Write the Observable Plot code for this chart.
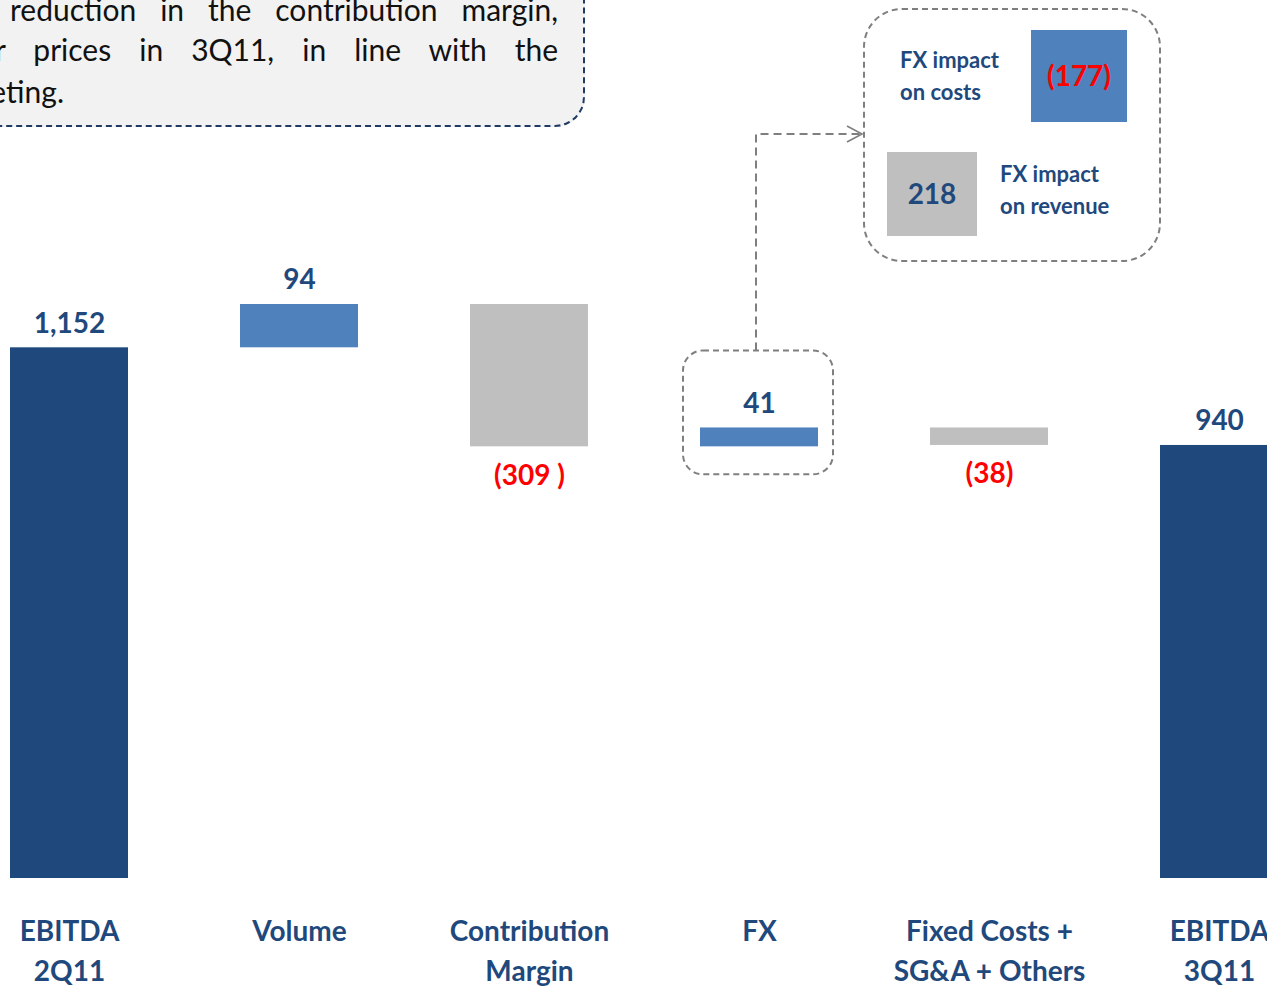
<!DOCTYPE html>
<html>
<head>
<meta charset="utf-8">
<script src="https://cdn.jsdelivr.net/npm/d3@7"></script>
<script src="https://cdn.jsdelivr.net/npm/@observablehq/plot@0.6"></script>
<style>
  html, body { margin: 0; padding: 0; background: #fff; overflow: hidden; }
  #wrap { position: relative; width: 1267px; height: 986px; overflow: hidden; font-family: Lato, "Open Sans", sans-serif; }
  #wrap svg { position: absolute; left: 0; top: 0; overflow: hidden; }
  .note-box {
    position: absolute; left: -60px; top: -40px; width: 645px; height: 167px;
    box-sizing: border-box; background: #f2f2f2;
    border: 2.5px dashed #1f3a63; border-radius: 30px;
  }
  .note-line {
    position: absolute; height: 40px; line-height: 40px;
    font-size: 30px; color: #111; white-space: nowrap;
    text-align: justify; text-align-last: justify;
  }
</style>
</head>
<body>
<div id="wrap">
  <div class="note-box"></div>
  <div class="note-line" style="left:10px; width:548px; top:-11px;">reduction in the contribution margin,</div>
  <div class="note-line" style="left:-68px; width:626px; top:29px;">lower prices in 3Q11, in line with the</div>
  <div class="note-line" style="left:-200px; width:264px; top:71px; text-align:right; text-align-last:right;">marketing.</div>
</div>
<script>
// EBITDA bridge, 2Q11 -> 3Q11
const categories = ["EBITDA\n2Q11", "Volume", "Contribution\nMargin", "FX", "Fixed Costs +\nSG&A + Others", "EBITDA\n3Q11"];
const values = [1152, 94, -309, 41, -38, 940];
const kinds = ["total", "delta", "delta", "delta", "delta", "total"];
const valueLabels = ["1,152", "94", "(309 )", "41", "(38)", "940"];

// FX breakdown shown in the inset
const fxParts = ["FX impact\non costs", "FX impact\non revenue"];
const fxValues = [-177, 218];
const fxLabels = ["(177)", "218"];

const NAVY = "#1f497d", BLUE = "#4f81bd", GRAY = "#bfbfbf", RED = "#ff0000", LINE = "#7f7f7f";

// running totals for the floating bars
let running = 0;
const rows = categories.map((cat, i) => {
  const v = values[i];
  let y1, y2;
  if (kinds[i] === "total") { y1 = 0; y2 = v; running = v; }
  else { y1 = running; y2 = running + v; running = y2; }
  return {cat, value: v, kind: kinds[i], label: valueLabels[i], lo: Math.min(y1, y2), hi: Math.max(y1, y2)};
});

const fill = d => d.kind === "total" ? NAVY : d.value > 0 ? BLUE : GRAY;
const up = rows.filter(d => d.kind === "total" || d.value > 0);
const down = rows.filter(d => d.kind !== "total" && d.value < 0);

const xOpts = {domain: categories, range: [-46, 1334], paddingInner: 0.487, paddingOuter: 0.2435, align: 0.5};
const yOpts = {domain: [0, 1246], range: [878, 304]};

const chart = Plot.plot({
  width: 1267,
  height: 986,
  marginTop: 0, marginRight: 0, marginBottom: 0, marginLeft: 0,
  style: {fontFamily: "Lato, 'Open Sans', sans-serif", background: "transparent", overflow: "hidden"},
  x: {type: "band", ...xOpts, axis: null},
  y: {type: "linear", ...yOpts, axis: null},
  marks: [
    Plot.barY(rows, {x: "cat", y1: "lo", y2: "hi", fill}),
    Plot.text(up, {x: "cat", y: "hi", text: "label", dy: -24, lineAnchor: "middle",
      fill: NAVY, fontSize: 28, fontWeight: "bold"}),
    Plot.text(down, {x: "cat", y: "lo", text: "label", dy: 29, lineAnchor: "middle",
      fill: RED, fontSize: 28, fontWeight: "bold"}),
    Plot.text(rows, {x: "cat", y: 0, text: "cat", dy: 34, lineAnchor: "top", lineHeight: 1.43,
      fill: NAVY, fontSize: 28, fontWeight: "bold"})
  ]
});

const wrap = document.getElementById("wrap");
wrap.insertBefore(chart, wrap.firstChild);

// annotation layer: FX call-out and its breakdown
const x = d3.scaleBand().domain(xOpts.domain).range(xOpts.range)
  .paddingInner(xOpts.paddingInner).paddingOuter(xOpts.paddingOuter).align(0.5);
const y = d3.scaleLinear().domain(yOpts.domain).range(yOpts.range);
const fxRow = rows.find(d => d.cat === "FX");
const svg = d3.select(chart);
const g = svg.append("g").attr("fill", "none").attr("stroke", LINE).attr("stroke-width", 2);

const bx0 = x("FX") - 17, bx1 = x("FX") + x.bandwidth() + 15;
const by0 = y(fxRow.hi) - 77, by1 = y(fxRow.lo) + 28;
g.append("rect").attr("x", bx0).attr("y", by0).attr("width", bx1 - bx0).attr("height", by1 - by0)
  .attr("rx", 20).attr("stroke-dasharray", "6,4");

const ax = x("FX") + x.bandwidth() / 2 - 3;
g.append("path").attr("d", `M${ax},${by0} V134 H861`).attr("stroke-dasharray", "8,5");
g.append("path").attr("d", "M847,126 L862,134 L847,142").attr("stroke-width", 1.6);

g.append("rect").attr("x", 864).attr("y", 9).attr("width", 296).attr("height", 252)
  .attr("rx", 38).attr("stroke-dasharray", "6,4");

const tiles = [
  {x: 1031, y: 30, w: 96, h: 92, fill: BLUE, color: RED, lx: 900, ly: 60},
  {x: 887, y: 152, w: 90, h: 84, fill: GRAY, color: NAVY, lx: 1000, ly: 174}
];
tiles.forEach((t, i) => {
  svg.append("rect").attr("x", t.x).attr("y", t.y).attr("width", t.w).attr("height", t.h).attr("fill", t.fill);
  svg.append("text").attr("x", t.x + t.w / 2).attr("y", t.y + t.h / 2).attr("dy", "0.35em")
    .attr("text-anchor", "middle").attr("fill", t.color)
    .attr("font-size", 28).attr("font-weight", "bold").text(fxLabels[i]);
  const lines = fxParts[i].split("\n");
  lines.forEach((ln, j) => {
    svg.append("text").attr("x", t.lx).attr("y", t.ly + j * 32).attr("dy", "0.35em")
      .attr("text-anchor", "start").attr("fill", NAVY)
      .attr("font-size", 22).attr("font-weight", "bold").text(ln);
  });
});
</script>
</body>
</html>
